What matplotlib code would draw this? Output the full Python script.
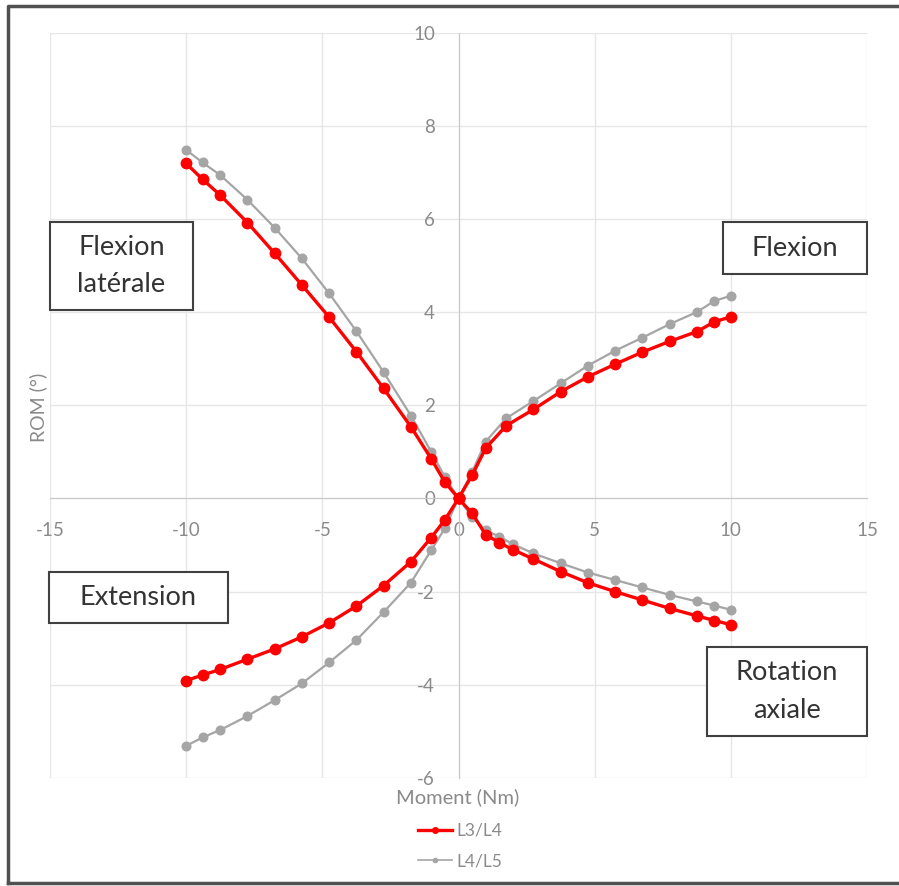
import matplotlib
matplotlib.use("Agg")
import matplotlib.pyplot as plt
from matplotlib.patches import Rectangle
from matplotlib.lines import Line2D

# ---- data ----
SERIES = ["L3/L4", "L4/L5"]

# lateral flexion / extension branches (negative moment)
x_neg = [0, -0.5, -1.0, -1.75, -2.75, -3.75, -4.75, -5.75, -6.75, -7.75, -8.75, -9.4, -10]
lat_l34 = [0, 0.35, 0.85, 1.54, 2.36, 3.15, 3.89, 4.58, 5.26, 5.92, 6.51, 6.85, 7.19]
lat_l45 = [0, 0.46, 1.00, 1.78, 2.71, 3.59, 4.40, 5.15, 5.81, 6.41, 6.94, 7.21, 7.48]
ext_l34 = [0, -0.46, -0.84, -1.36, -1.87, -2.31, -2.67, -2.97, -3.23, -3.45, -3.67, -3.79, -3.91]
ext_l45 = [0, -0.64, -1.11, -1.81, -2.44, -3.04, -3.52, -3.97, -4.33, -4.67, -4.97, -5.13, -5.31]

# flexion branch (positive moment)
x_flex = [0, 0.5, 1.0, 1.75, 2.75, 3.75, 4.75, 5.75, 6.75, 7.75, 8.75, 9.4, 10]
flex_l34 = [0, 0.50, 1.08, 1.56, 1.91, 2.29, 2.61, 2.88, 3.14, 3.37, 3.58, 3.79, 3.90]
flex_l45 = [0, 0.57, 1.22, 1.72, 2.09, 2.47, 2.85, 3.17, 3.45, 3.74, 4.00, 4.24, 4.35]

# axial rotation branch (positive moment)
x_rot = [0, 0.5, 1.0, 1.5, 2.0, 2.75, 3.75, 4.75, 5.75, 6.75, 7.75, 8.75, 9.4, 10]
rot_l34 = [0, -0.32, -0.78, -0.95, -1.10, -1.30, -1.57, -1.81, -2.00, -2.18, -2.36, -2.52, -2.62, -2.71]
rot_l45 = [0, -0.40, -0.68, -0.82, -0.98, -1.18, -1.39, -1.59, -1.75, -1.91, -2.07, -2.21, -2.30, -2.39]

X_TICKS = [-15, -10, -5, 0, 5, 10, 15]
Y_TICKS = [-6, -4, -2, 0, 2, 4, 6, 8, 10]
# -------------------------------------

RED = "#ff0000"
GRAY = "#a5a5a5"
LABEL = "#8a8a8a"
plt.rcParams["font.family"] = ["Lato", "DejaVu Sans"]
plt.rcParams["axes.unicode_minus"] = False

W, H = 899, 886
fig = plt.figure(figsize=(W / 100, H / 100), dpi=100)
ax = fig.add_axes([50 / W, 1 - 778 / H, (867 - 50) / W, (778 - 32.5) / H])

red_kw = dict(color=RED, lw=2.4, marker="o", ms=7.5, zorder=4)
gray_kw = dict(color=GRAY, lw=1.6, marker="o", ms=6.2, zorder=3)

ax.plot(x_neg, lat_l45, **gray_kw)
ax.plot(x_neg, ext_l45, **gray_kw)
ax.plot(x_flex, flex_l45, **gray_kw)
ax.plot(x_rot, rot_l45, **gray_kw)
ax.plot(x_neg, lat_l34, **red_kw)
ax.plot(x_neg, ext_l34, **red_kw)
ax.plot(x_flex, flex_l34, **red_kw)
ax.plot(x_rot, rot_l34, **red_kw)

ax.set_xlim(-15, 15)
ax.set_ylim(-6, 10)
ax.set_xticks(X_TICKS)
ax.set_yticks(Y_TICKS)
ax.grid(True, color="#e6e6e6", lw=1.0, zorder=0)
for s in ax.spines.values():
    s.set_visible(False)
for side in ("left", "bottom"):
    ax.spines[side].set_visible(True)
    ax.spines[side].set_position(("data", 0))
    ax.spines[side].set_color("#c8c8c8")
ax.tick_params(length=0, labelsize=13.5, labelcolor=LABEL)
ax.tick_params(axis="x", pad=17)
ax.tick_params(axis="y", pad=17)

fig.text(38 / W, 1 - 407 / H, "ROM (°)", rotation=90, ha="center", va="center",
         fontsize=14, color=LABEL)
fig.text(458 / W, 1 - 797 / H, "Moment (Nm)", ha="center", va="center",
         fontsize=14.5, color=LABEL)

handles = [Line2D([], [], color=RED, lw=2.4, marker="o", ms=4),
           Line2D([], [], color=GRAY, lw=1.2, marker="o", ms=3)]
leg = fig.legend(handles, SERIES, loc="center", bbox_to_anchor=(460 / W, 1 - 846 / H),
                 frameon=False, fontsize=12.5, handlelength=2.0, labelspacing=0.85,
                 handletextpad=0.25)
for t in leg.get_texts():
    t.set_color(LABEL)


def box(x0, y0, x1, y1, text):
    fig.patches.append(Rectangle((x0 / W, 1 - y1 / H), (x1 - x0) / W, (y1 - y0) / H,
                                 transform=fig.transFigure, fill=True, fc="white",
                                 ec="#404040", lw=1.5, zorder=5))
    fig.text((x0 + x1) / 2 / W, 1 - (y0 + y1) / 2 / H, text, ha="center", va="center",
             fontsize=19.5, color="#333333", linespacing=1.6, zorder=6)


box(50, 222, 193, 310, "Flexion\nlatérale")
box(723, 222, 867, 274, "Flexion")
box(49, 572, 228, 623, "Extension")
box(707, 647, 867, 736, "Rotation\naxiale")

# outer frame (right edge cut off in the reference)
fig.add_artist(Line2D([8 / W, 8 / W, 905 / W], [1 - 883 / H, 1 - 6 / H, 1 - 6 / H],
                      color="#505050", lw=2.5, transform=fig.transFigure))
fig.add_artist(Line2D([8 / W, 905 / W], [1 - 883 / H, 1 - 883 / H],
                      color="#505050", lw=2.5, transform=fig.transFigure))

fig.savefig("out.png", dpi=100)
